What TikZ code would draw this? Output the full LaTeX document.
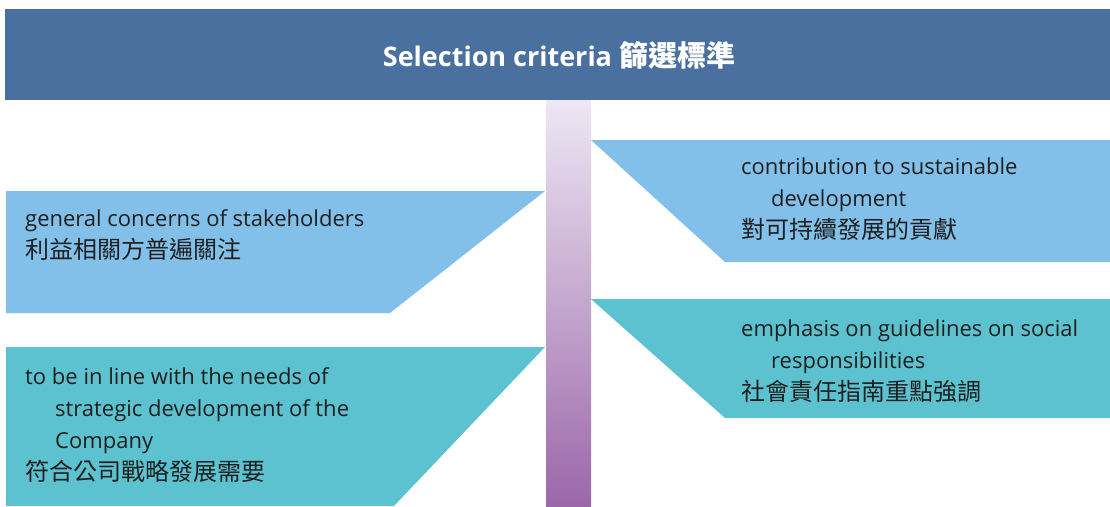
\documentclass[tikz,border=0pt]{standalone}
\usepackage{fontspec}
\setmainfont{Open Sans}
\newfontfamily\cjk{Noto Sans CJK TC}
\usetikzlibrary{positioning}
\definecolor{headblue}{HTML}{4A70A0}
\definecolor{skyblue}{HTML}{82C0E9}
\definecolor{tealblue}{HTML}{5DC2D0}
\definecolor{barlight}{HTML}{EEE7F4}
\definecolor{bardark}{HTML}{9B67A9}
\tikzset{
  header/.style={text=white, font=\bfseries\fontsize{27}{34}\selectfont, inner sep=0},
  crit/.style={anchor=north west, align=left, inner sep=0, text=black!88, font=\fontsize{22}{32}\selectfont}
}
\newcommand{\zh}[1]{{\cjk\fontsize{24}{32}\selectfont #1}}
\newcommand{\ind}{\hspace*{30pt}}

\begin{document}
\begin{tikzpicture}[x=1pt, y=-1pt]
  \useasboundingbox (0,0) rectangle (1110,506);
  \fill[headblue] (5,9) rectangle (1110,100);
  \node[header](head) at (559,55){Selection criteria {\cjk\fontsize{29}{34}\selectfont 篩選標準}};

  \shade[top color=barlight, bottom color=bardark] (546,100) rectangle (591,506);

  \fill[skyblue] (6,191) -- (545,191) -- (390,313) -- (6,313) -- cycle;
  \fill[tealblue] (6,347) -- (545,347) -- (394,506) -- (6,506) -- cycle;
  \fill[skyblue] (591,140) -- (1110,140) -- (1110,262) -- (725,262) -- cycle;
  \fill[tealblue] (591,299) -- (1110,299) -- (1110,418) -- (725,418) -- cycle;

  \node[crit](general) at (25,209.5){general concerns of stakeholders\\\zh{利益相關方普遍關注}};
  \node[crit](strategy) at (25,367.5){to be in line with the needs of\\\ind strategic development of the\\\ind Company\\\zh{符合公司戰略發展需要}};
  \node[crit](contrib) at (741,158){contribution to sustainable\\\ind development\\\zh{對可持續發展的貢獻}};
  \node[crit](emphasis) at (741,319.5){emphasis on guidelines on social\\\ind responsibilities\\\zh{社會責任指南重點強調}};
\end{tikzpicture}
\end{document}
